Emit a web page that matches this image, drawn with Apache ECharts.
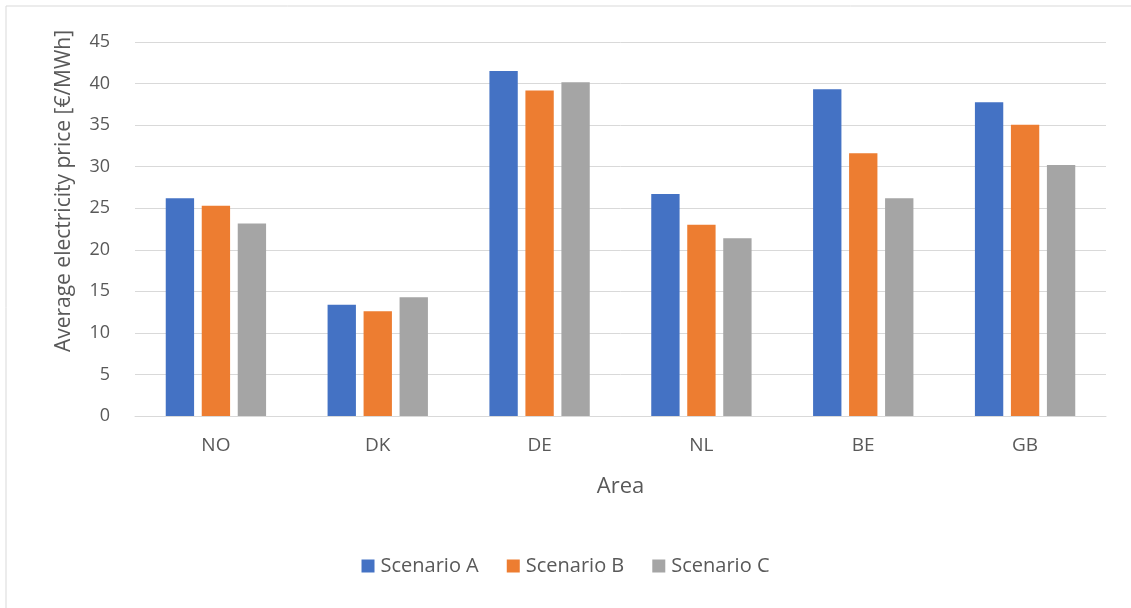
<!DOCTYPE html>
<html>
<head>
<meta charset="utf-8">
<script src="https://cdn.jsdelivr.net/npm/echarts@6/dist/echarts.min.js"></script>
<style>
  html, body { margin: 0; padding: 0; background: #fff; }
  #chart { width: 1131px; height: 608px; }
</style>
</head>
<body>
<div id="chart"></div>
<script>
// Average electricity price per area for three scenarios (€/MWh)
const areas = ['NO', 'DK', 'DE', 'NL', 'BE', 'GB'];
const scenarioA = [26.2, 13.4, 41.5, 26.7, 39.3, 37.75];
const scenarioB = [25.3, 12.6, 39.15, 23.0, 31.6, 35.05];
const scenarioC = [23.15, 14.3, 40.15, 21.4, 26.2, 30.2];
const seriesNames = ['Scenario A', 'Scenario B', 'Scenario C'];
const yTicks = [0, 5, 10, 15, 20, 25, 30, 35, 40, 45];

const FONT = '"Open Sans", Lato, sans-serif';
const TEXT = '#595959';
const colors = ['#4472C4', '#ED7D31', '#A5A5A5'];

const chart = echarts.init(document.getElementById('chart'), null, { renderer: 'canvas' });

const makeBar = (name, data, color) => ({
  name,
  type: 'bar',
  data,
  barGap: '27%',
  barCategoryGap: '38%',
  itemStyle: { color },
  emphasis: { disabled: true }
});

chart.setOption({
  animation: false,
  backgroundColor: '#fff',
  textStyle: { fontFamily: FONT },
  color: colors,
  graphic: [
    {
      type: 'rect',
      shape: { x: 6, y: 6, width: 1300, height: 800 },
      style: { fill: 'none', stroke: '#d9d9d9', lineWidth: 1 },
      silent: true
    },
    {
      type: 'text',
      x: 64,
      y: 191,
      rotation: Math.PI / 2,
      style: {
        text: 'Average electricity price [€/MWh]',
        fill: TEXT,
        font: '21px ' + FONT,
        align: 'center',
        verticalAlign: 'middle'
      },
      silent: true
    }
  ],
  grid: { left: 135, right: 25, top: 42, bottom: 192, containLabel: false },
  legend: {
    data: seriesNames,
    bottom: 27,
    left: 'center',
    itemWidth: 13,
    itemHeight: 13,
    itemGap: 28,
    icon: 'rect',
    textStyle: { color: TEXT, fontSize: 20, fontFamily: FONT, padding: [0, 0, 0, 1] }
  },
  xAxis: {
    type: 'category',
    data: areas,
    name: 'Area',
    nameLocation: 'middle',
    nameGap: 60,
    nameTextStyle: { color: TEXT, fontSize: 22, fontFamily: FONT },
    axisLine: { lineStyle: { color: '#d9d9d9', width: 1 } },
    axisTick: { show: false },
    axisLabel: { color: TEXT, fontSize: 19, fontFamily: FONT, margin: 20 }
  },
  yAxis: {
    type: 'value',
    min: yTicks[0],
    max: yTicks[yTicks.length - 1],
    interval: yTicks[1] - yTicks[0],
    axisLine: { show: false },
    axisTick: { show: false },
    splitLine: { lineStyle: { color: '#d9d9d9', width: 1 } },
    axisLabel: { color: TEXT, fontSize: 18, fontFamily: FONT, margin: 25 }
  },
  series: [
    makeBar(seriesNames[0], scenarioA, colors[0]),
    makeBar(seriesNames[1], scenarioB, colors[1]),
    makeBar(seriesNames[2], scenarioC, colors[2])
  ]
});
</script>
</body>
</html>
